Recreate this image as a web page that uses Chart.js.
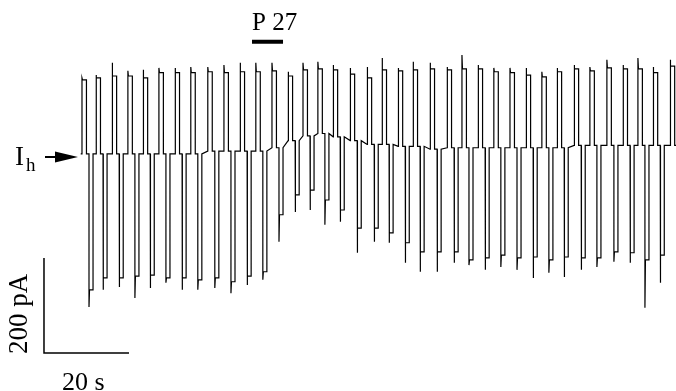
<!DOCTYPE html>
<html>
<head>
<meta charset="utf-8">
<title>Ih – P 27</title>
<script src="https://cdn.jsdelivr.net/npm/chart.js@4.4.1/dist/chart.umd.min.js"></script>
<style>
  html, body { margin: 0; padding: 0; background: #fff; }
  #wrap { width: 676px; height: 391px; }
</style>
</head>
<body>
<div id="wrap"><canvas id="trazo" width="676" height="391"></canvas></div>
<script>
// Inicio de cada ciclo de pulsos (s)
const inicioCiclo = [0.0, 3.3, 7.1, 10.8, 14.4, 18.1, 21.9, 25.6, 29.6, 33.4, 37.2, 40.9,
  44.7, 48.5, 52.0, 55.5, 59.1, 63.1, 67.1, 70.6, 74.4, 77.9, 81.9, 85.9, 89.4, 93.2,
  96.9, 100.7, 104.5, 108.2, 111.8, 115.8, 119.5, 123.5, 127.3, 130.8, 134.4, 138.4];

// Corriente durante el pulso despolarizante (pA) y su pico inicial
const corrienteArriba = [158, 162, 166, 166, 162, 173, 173, 173, 175, 173, 175, 175,
  177, 166, 179, 181, 179, 170, 162, 179, 177, 179, 181, 179, 181, 181,
  175, 173, 168, 164, 175, 181, 177, 183, 181, 181, 173, 187];
const picoArriba = [162, 168, 194, 177, 179, 183, 183, 185, 185, 189, 194, 194,
  194, 175, 194, 196, 189, 183, 185, 204, 183, 196, 194, 185, 210, 189,
  183, 183, 183, 175, 183, 189, 185, 200, 189, 204, 185, 200];

// Corriente de mantenimiento entre pulsos (pA)
const corrienteBase = [2, 2, 2, 2, 2, 2, 2, 2, 8, 8, 8, 8,
  15, 30, 40, 45, 38, 30, 22, 22, 18, 18, 12, 15, 15, 15,
  15, 15, 15, 15, 15, 20, 20, 20, 20, 20, 20, 20];

// Corriente durante el pulso hiperpolarizante (pA) y su pico inicial
const corrienteAbajo = [-284, -259, -259, -255, -253, -259, -259, -263, -259, -267, -255, -246,
  -126, -84, -74, -95, -116, -154, -154, -164, -185, -204, -204, -204, -221, -217,
  -211, -217, -215, -221, -215, -217, -217, -204, -206, -221, -211, -215];
const picoAbajo = [-320, -284, -278, -301, -280, -269, -284, -284, -280, -291, -274, -263,
  -183, -120, -116, -147, -141, -206, -183, -185, -227, -246, -246, -227, -232, -242,
  -236, -242, -259, -248, -257, -242, -236, -225, -227, -322, -269, -240];

// Aplicación de P 27 (s) y barras de calibración
const aplicacionP27 = [40.0, 47.3];
const escalaTiempo = 20;      // s
const escalaCorriente = 200;  // pA

// Duraciones dentro de cada ciclo (s)
const DUR_ARRIBA = 1.05;
const PAUSA = 0.6;
const DUR_ABAJO = 0.95;

function construirTrazo() {
  const puntos = [{ x: -0.3, y: corrienteBase[0] }];
  inicioCiclo.forEach((t0, i) => {
    const base = corrienteBase[i];
    puntos.push({ x: t0, y: base });
    puntos.push({ x: t0, y: picoArriba[i] });
    puntos.push({ x: t0 + 0.12, y: corrienteArriba[i] });
    puntos.push({ x: t0 + DUR_ARRIBA, y: corrienteArriba[i] });
    puntos.push({ x: t0 + DUR_ARRIBA, y: base });
    const tb = t0 + DUR_ARRIBA + PAUSA;
    puntos.push({ x: tb, y: base });
    puntos.push({ x: tb, y: picoAbajo[i] });
    puntos.push({ x: tb + 0.12, y: corrienteAbajo[i] });
    puntos.push({ x: tb + DUR_ABAJO, y: corrienteAbajo[i] });
    puntos.push({ x: tb + DUR_ABAJO, y: base });
  });
  return puntos;
}

// Posición de las barras de calibración
const xEscala = -8.94;
const yEscala = -417;

// Textos y flecha de Ih
const rotulos = {
  id: 'rotulos',
  afterDraw(chart) {
    const ctx = chart.ctx;
    ctx.save();
    ctx.fillStyle = '#000';
    ctx.textBaseline = 'alphabetic';
    ctx.textAlign = 'left';

    ctx.font = '25px "Liberation Serif", "DejaVu Serif", serif';
    ctx.fillText('P 27', 252, 30);
    ctx.font = '26px "Liberation Serif", "DejaVu Serif", serif';
    ctx.fillText('20 s', 62, 390);

    ctx.font = '27px "Liberation Serif", "DejaVu Serif", serif';
    ctx.fillText('I', 15, 165);
    ctx.font = '19px "Liberation Serif", "DejaVu Serif", serif';
    ctx.fillText('h', 26, 171);

    // flecha
    ctx.strokeStyle = '#000';
    ctx.lineWidth = 2;
    ctx.beginPath();
    ctx.moveTo(45, 157);
    ctx.lineTo(58, 157);
    ctx.stroke();
    ctx.beginPath();
    ctx.moveTo(55, 151.5);
    ctx.lineTo(78, 157);
    ctx.lineTo(55, 162.5);
    ctx.closePath();
    ctx.fill();

    // rótulo vertical
    ctx.translate(27, 354);
    ctx.rotate(-Math.PI / 2);
    ctx.font = '27px "Liberation Serif", "DejaVu Serif", serif';
    ctx.fillText('200 pA', 0, 0);
    ctx.restore();
  }
};

new Chart(document.getElementById('trazo').getContext('2d'), {
  type: 'line',
  data: {
    datasets: [
      {
        label: 'Ih',
        data: construirTrazo(),
        borderColor: '#000',
        borderWidth: 1.2,
        pointRadius: 0,
        tension: 0
      },
      {
        label: 'P 27',
        data: [{ x: aplicacionP27[0], y: 238 }, { x: aplicacionP27[1], y: 238 }],
        borderColor: '#000',
        borderWidth: 4,
        pointRadius: 0
      },
      {
        label: 'escala',
        data: [
          { x: xEscala, y: yEscala + escalaCorriente },
          { x: xEscala, y: yEscala },
          { x: xEscala + escalaTiempo, y: yEscala }
        ],
        borderColor: '#000',
        borderWidth: 1.5,
        pointRadius: 0
      }
    ]
  },
  options: {
    responsive: false,
    animation: false,
    devicePixelRatio: 1,
    layout: { padding: 0 },
    plugins: {
      legend: { display: false },
      tooltip: { enabled: false }
    },
    scales: {
      x: { type: 'linear', min: -19.29, max: 139.76, display: false },
      y: { type: 'linear', min: -497, max: 326, display: false }
    }
  },
  plugins: [rotulos]
});
</script>
</body>
</html>
